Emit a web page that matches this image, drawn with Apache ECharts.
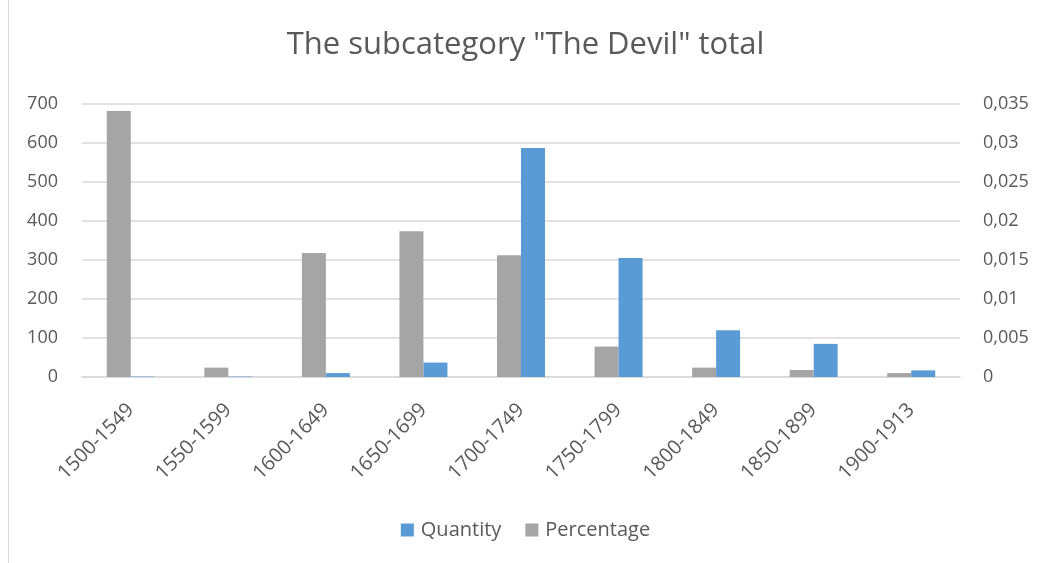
<!DOCTYPE html>
<html>
<head>
<meta charset="utf-8">
<script src="https://cdn.jsdelivr.net/npm/echarts@6/dist/echarts.min.js"></script>
<style>
  html, body { margin: 0; padding: 0; background: #fff; }
  #frame { position: absolute; left: 8px; top: 0; width: 1043px; height: 563px; border-left: 1px solid #d9d9d9; box-sizing: border-box; }
  #chart { position: absolute; left: 0; top: 0; width: 1051px; height: 563px; }
</style>
</head>
<body>
<div id="frame"></div>
<div id="chart"></div>
<script>
// 数据
const periods = ['1500-1549', '1550-1599', '1600-1649', '1650-1699', '1700-1749', '1750-1799', '1800-1849', '1850-1899', '1900-1913']
const quantity = [1, 1, 10, 37, 587, 305, 120, 85, 17]
const percentage = [0.0341, 0.0012, 0.0159, 0.0187, 0.0156, 0.0039, 0.0012, 0.0009, 0.0005]

const font = '"Open Sans", "Liberation Sans", sans-serif'
const textColor = '#595959'

const chart = echarts.init(document.getElementById('chart'))

chart.setOption({
  animation: false,
  title: {
    text: 'The subcategory "The Devil" total',
    left: 'center',
    top: 25,
    textStyle: { fontFamily: font, fontSize: 31, fontWeight: 'normal', color: textColor }
  },
  legend: {
    data: ['Quantity', 'Percentage'],
    top: 515,
    left: 'center',
    itemWidth: 13,
    itemHeight: 13,
    itemGap: 24,
    icon: 'rect',
    textStyle: { fontFamily: font, fontSize: 20, color: textColor, padding: [0, 0, 0, 2] }
  },
  grid: { left: 82, right: 91, top: 104, bottom: 186 },
  xAxis: {
    type: 'category',
    data: periods,
    axisTick: { show: false },
    axisLine: { lineStyle: { color: '#d9d9d9', width: 1.5 } },
    axisLabel: {
      rotate: 45,
      fontFamily: font,
      fontSize: 20,
      color: textColor,
      margin: 30,
      interval: 0
    }
  },
  yAxis: [
    {
      type: 'value',
      min: 0,
      max: 700,
      interval: 100,
      axisLine: { show: false },
      axisTick: { show: false },
      splitLine: { lineStyle: { color: '#d9d9d9', width: 1.5 } },
      axisLabel: { fontFamily: font, fontSize: 18, color: textColor, margin: 24 }
    },
    {
      type: 'value',
      min: 0,
      max: 0.035,
      interval: 0.005,
      position: 'right',
      axisLine: { show: false },
      axisTick: { show: false },
      splitLine: { show: false },
      axisLabel: {
        fontFamily: font,
        fontSize: 18,
        color: textColor,
        margin: 23,
        formatter: v => String(Number(v.toFixed(3))).replace('.', ',')
      }
    }
  ],
  series: [
    {
      name: 'Percentage',
      type: 'bar',
      data: percentage,
      yAxisIndex: 1,
      barWidth: 24,
      barGap: '0%',
      itemStyle: { color: '#a5a5a5' }
    },
    {
      name: 'Quantity',
      type: 'bar',
      data: quantity,
      yAxisIndex: 0,
      barWidth: 24,
      barGap: '0%',
      itemStyle: { color: '#5b9bd5' }
    }
  ]
})
</script>
</body>
</html>
